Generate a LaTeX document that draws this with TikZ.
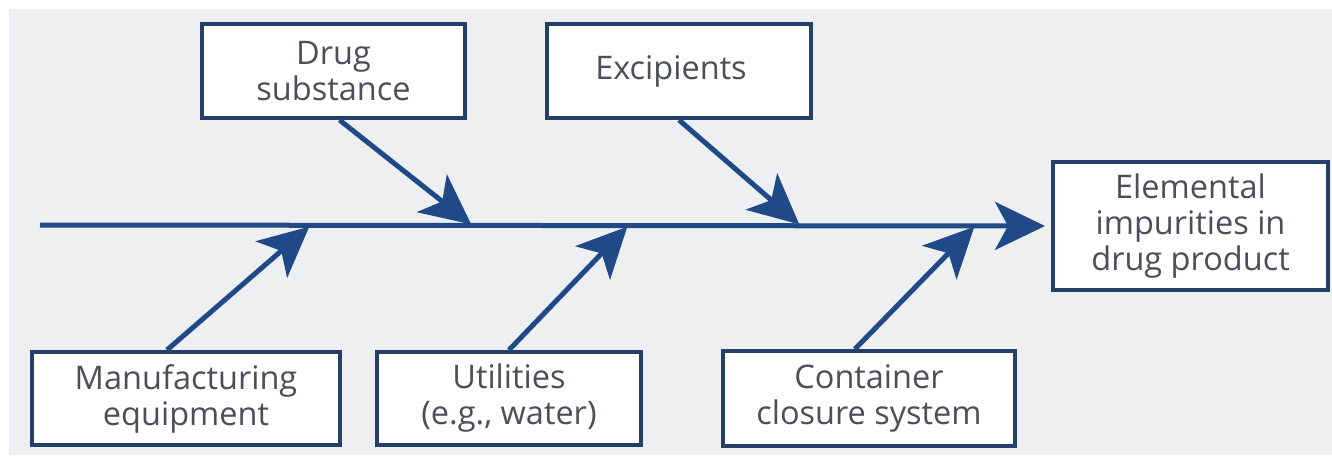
\documentclass[tikz,border=0pt]{standalone}
\usepackage{fontspec}
\setmainfont{Open Sans}
\usetikzlibrary{arrows.meta,positioning}
\definecolor{fishblue}{HTML}{1F4A87}
\definecolor{boxblue}{HTML}{253F6B}
\definecolor{textgray}{HTML}{4B4F58}
\definecolor{bggray}{HTML}{EEEFF1}

\begin{document}
\begin{tikzpicture}[
    x=1pt, y=-1pt,
    every node/.style={font=\fontsize{32.5}{36}\selectfont, text=textgray, align=center},
    box/.style={draw=boxblue, line width=4pt, fill=white, inner sep=0pt},
    every edge/.style={draw=fishblue, line width=5pt, -{Stealth[length=50pt, width=48pt, inset=13pt]}, shorten >=1pt}
]

% Background
\useasboundingbox (0,0) rectangle (1332,455);
\fill[bggray] (9,9) rectangle (1332,455);

% Nodes
\node[box, minimum width=263pt, minimum height=94pt] (drug) at (333.5,71) {Drug\\substance};
\node[box, minimum width=264pt, minimum height=94pt, right=78pt of drug] (excip) {Excipients\hspace*{16pt}};
\node[box, minimum width=275pt, minimum height=128pt] (elem) at (1190.5,226) {Elemental\\impurities in\\drug product};
\node[box, minimum width=308pt, minimum height=93pt] (manuf) at (186,398.5) {Manufacturing\\equipment};
\node[box, minimum width=264pt, minimum height=93pt, right=33pt of manuf] (util) {Utilities\\(e.g., water)};
\node[box, minimum width=292pt, minimum height=95pt, right=78pt of util] (cont) {Container\\closure system};

% Spine points
\coordinate (tail) at (40,225);
\coordinate (dj) at (472,225);
\coordinate (ej) at (800,225);
\coordinate (mj) at (310,226);
\coordinate (uj) at (628,226);
\coordinate (cj) at (975,226);

% Edges
\path (tail) edge[shorten >=6pt] (elem.west);
\path ([xshift=6pt]drug.south) edge (dj);
\path (excip.south) edge (ej);
\path ([xshift=-19pt]manuf.north) edge (mj);
\path (util.north) edge (uj);
\path ([xshift=-14pt]cont.north) edge (cj);

\end{tikzpicture}
\end{document}
